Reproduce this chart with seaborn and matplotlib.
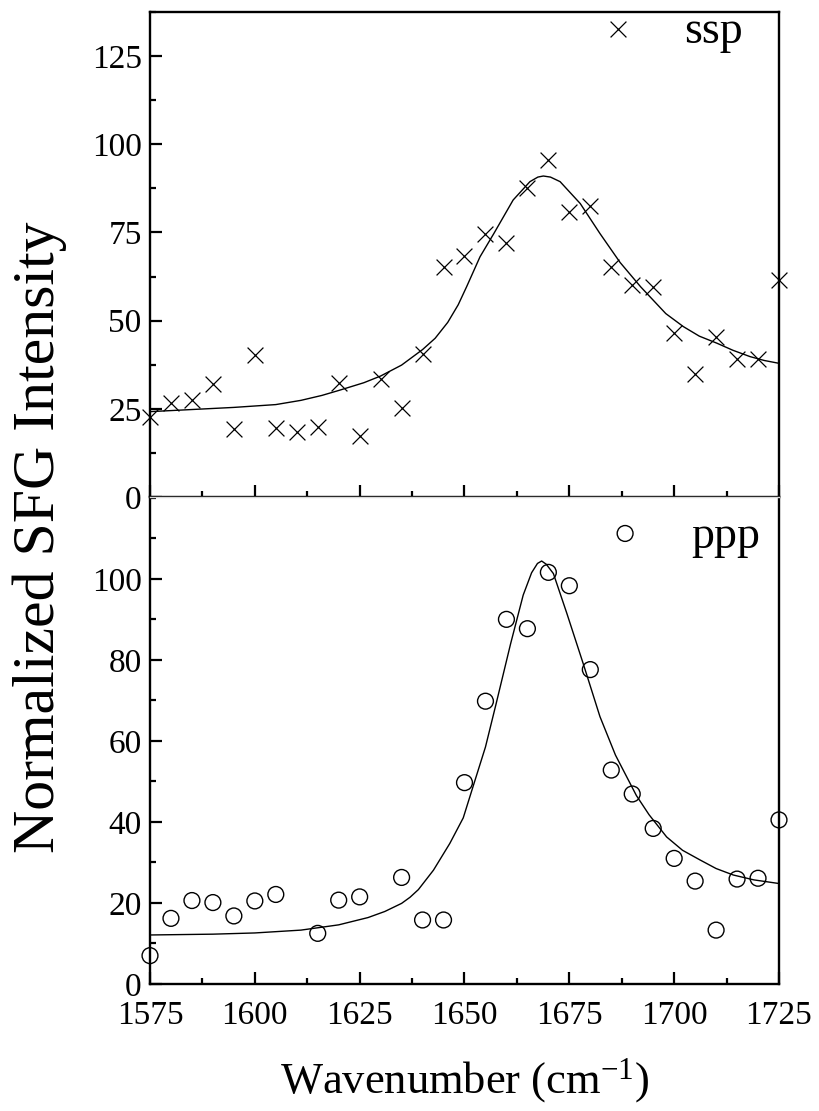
import numpy as np
import pandas as pd
import matplotlib
matplotlib.use("Agg")
import matplotlib.pyplot as plt
from matplotlib.ticker import MultipleLocator
import seaborn as sns

# ---------------- data ----------------
ssp_x = [1575, 1580, 1585, 1590, 1595, 1600, 1605, 1610, 1615, 1620, 1625, 1630,
         1635, 1640, 1645, 1650, 1655, 1660, 1665, 1670, 1675, 1680, 1685, 1686.5,
         1690, 1695, 1700, 1705, 1710, 1715, 1720, 1725]
ssp_y = [22.8, 26.6, 27.5, 31.9, 19.3, 40.2, 19.5, 18.5, 19.9, 32.4, 17.3, 33.4,
         25.2, 40.5, 65.3, 68.4, 74.7, 71.9, 87.5, 95.5, 80.9, 82.6, 65.3, 132.8,
         60.1, 59.4, 46.6, 34.9, 45.4, 39.1, 39.1, 61.5]

ssp_fit_x = [1575, 1585, 1595, 1605, 1611, 1616, 1620, 1626, 1630, 1635, 1640,
             1643, 1646, 1648.5, 1650.5, 1653.7, 1657, 1661.6, 1665.6, 1667.5,
             1668.8, 1670.5, 1672.8, 1677.6, 1682.3, 1687.1, 1692, 1698, 1702.2,
             1706, 1710.2, 1714, 1718.1, 1721.5, 1725]
ssp_fit_y = [24.2, 24.8, 25.4, 26.2, 27.4, 28.8, 30.2, 32.4, 34.3, 37.4, 41.8,
             45.0, 49.5, 54.5, 59.6, 68.1, 74.7, 84.2, 89.4, 90.7,
             91.0, 90.7, 89.4, 83.2, 74.7, 66.5, 59.6, 52.0, 48.3,
             45.6, 43.6, 41.6, 39.8, 38.7, 37.9]

ppp_x = [1575, 1580, 1585, 1590, 1595, 1600, 1605, 1615, 1620, 1625, 1635, 1640,
         1645, 1650, 1655, 1660, 1665, 1670, 1675, 1680, 1685, 1688.3, 1690, 1695,
         1700, 1705, 1710, 1715, 1720, 1725]
ppp_y = [7.0, 16.2, 20.6, 20.1, 16.8, 20.5, 22.1, 12.5, 20.7, 21.5, 26.3, 15.8,
         15.8, 49.7, 69.8, 90.0, 87.7, 101.6, 98.3, 77.6, 52.8, 111.2, 46.9, 38.4,
         31.0, 25.4, 13.3, 25.9, 26.1, 40.5]

ppp_fit_x = [1575, 1590, 1600, 1611, 1620, 1627, 1631, 1635, 1637, 1639, 1642.6,
             1646.5, 1649.7, 1652.3, 1655, 1657.5, 1661, 1664, 1666, 1667.4, 1668.4,
             1669.5, 1671.2, 1674.4, 1678.3, 1682.3, 1686, 1691, 1694, 1698.2, 1702,
             1706.2, 1710, 1714.1, 1719, 1725]
ppp_fit_y = [12.1, 12.3, 12.6, 13.3, 14.6, 16.4, 17.9, 19.9, 21.4, 23.3, 28.1,
             34.7, 41.0, 49.6, 58.5, 69.0, 84.0, 96.0, 101.5, 103.8, 104.4,
             103.6, 101.3, 91.5, 79.1, 66.0, 56.5, 46.5, 41.8, 36.3, 33.0,
             30.6, 28.5, 26.9, 25.7, 24.8]

x_ticks = [1575, 1600, 1625, 1650, 1675, 1700, 1725]
ssp_yticks = [0, 25, 50, 75, 100, 125]
ppp_yticks = [0, 20, 40, 60, 80, 100]

ssp_pts = pd.DataFrame({"x": ssp_x, "y": ssp_y})
ssp_fit = pd.DataFrame({"x": ssp_fit_x, "y": ssp_fit_y})
ppp_pts = pd.DataFrame({"x": ppp_x, "y": ppp_y})
ppp_fit = pd.DataFrame({"x": ppp_fit_x, "y": ppp_fit_y})

# ---------------- style ----------------
sns.set_style("ticks")
plt.rcParams["font.family"] = ["Liberation Serif", "DejaVu Serif"]
plt.rcParams["mathtext.fontset"] = "custom"
plt.rcParams["mathtext.rm"] = "Liberation Serif"
plt.rcParams["mathtext.it"] = "Liberation Serif:italic"
for k in ["text.color", "axes.labelcolor", "xtick.color", "ytick.color",
          "axes.edgecolor", "xtick.labelcolor", "ytick.labelcolor"]:
    plt.rcParams[k] = "black"

fig = plt.figure(figsize=(8.2, 11.11), dpi=100)
L, R = 150 / 820, 779 / 820
ax1 = fig.add_axes([L, 1 - 497 / 1111, R - L, (497 - 12) / 1111])
ax2 = fig.add_axes([L, 1 - 984 / 1111, R - L, (984 - 497) / 1111])

# top panel: ssp
sns.lineplot(data=ssp_fit, x="x", y="y", ax=ax1, color="black", lw=1.0,
             sort=False, estimator=None)
sns.scatterplot(data=ssp_pts, x="x", y="y", ax=ax1, marker="x", s=130,
                color="black", linewidth=0.9, clip_on=False, zorder=3)
ax1.set_ylim(0, 137.5)
ax1.set_yticks(ssp_yticks)
ax1.yaxis.set_minor_locator(MultipleLocator(12.5))
ax1.text(1716.5, 128.7, "ssp", ha="right", va="baseline", fontsize=33)

# bottom panel: ppp
sns.lineplot(data=ppp_fit, x="x", y="y", ax=ax2, color="black", lw=1.0,
             sort=False, estimator=None)
sns.scatterplot(data=ppp_pts, x="x", y="y", ax=ax2, marker="o", s=130,
                facecolor="none", edgecolor="black", linewidth=1.0,
                clip_on=False, zorder=3)
ax2.set_ylim(0, 120.2)
ax2.set_yticks(ppp_yticks)
ax2.yaxis.set_minor_locator(MultipleLocator(10))
ax2.text(1720.5, 107.6, "ppp", ha="right", va="baseline", fontsize=33)

for ax in (ax1, ax2):
    ax.set_xlim(1575, 1725)
    ax.set_xticks(x_ticks)
    ax.xaxis.set_minor_locator(MultipleLocator(12.5))
    ax.set_xlabel("")
    ax.set_ylabel("")
    ax.tick_params(which="both", direction="in", width=1.6, top=False, right=False,
                   labelsize=24, colors="black", labelcolor="black")
    ax.tick_params(which="major", length=8.5)
    ax.tick_params(which="minor", length=4.5)
    ax.tick_params(axis="y", pad=6)
    ax.tick_params(axis="x", pad=12)
    for s in ax.spines.values():
        s.set_linewidth(1.7)
        s.set_color("black")
    ax.set_facecolor("white")

ax1.tick_params(axis="x", labelbottom=False)
ax2.spines["top"].set_color("#d8d8d8")
ax2.spines["top"].set_linewidth(1.0)

ax2.set_xlabel(r"Wavenumber (cm$^{\mathregular{-1}}$)", fontsize=32, labelpad=18,
               color="black")
fig.text(40 / 820, 1 - 537 / 1111, "Normalized SFG Intensity", rotation=90,
         ha="center", va="center", fontsize=43, color="black")

fig.savefig("out.png", dpi=100, facecolor="white")
